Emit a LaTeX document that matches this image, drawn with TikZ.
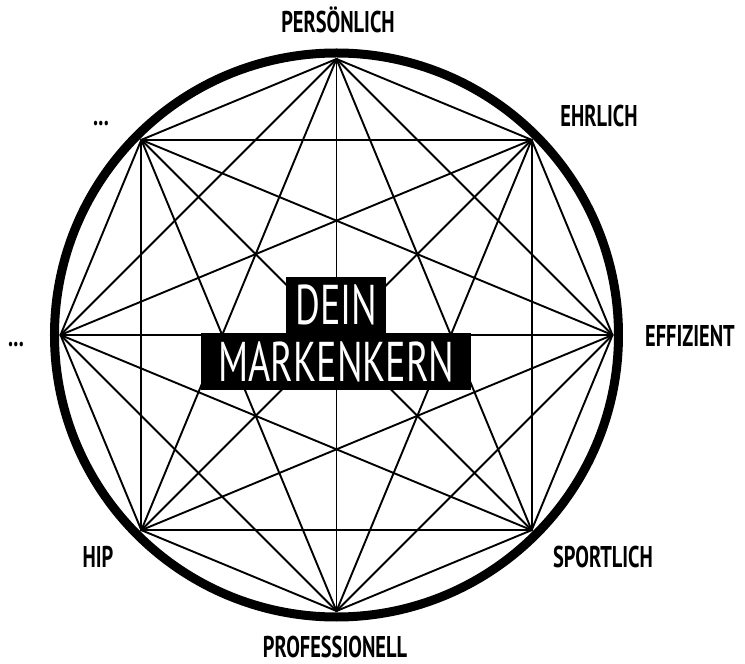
\documentclass[tikz,border=0pt]{standalone}
\usepackage{fontspec}
\setmainfont{PT Sans}[FakeStretch=0.68]
\begin{document}
\begin{tikzpicture}[x=1pt,y=1pt,line join=round,line cap=round,
  chord/.style={line width=1.9pt},
  rim/.style={line width=9pt},
  lbl/.style={font=\fontsize{30}{30}\selectfont\bfseries,anchor=base,inner sep=0pt},
  kern/.style={fill=black,text=white,font=\fontsize{56}{56}\selectfont,inner sep=0pt}]
\useasboundingbox (-336.5,-329) rectangle (408.5,335);
% corners of the star
\foreach \i/\a in {1/90,2/45,3/0,4/-45,5/-90,6/-135,7/180,8/135}
  \coordinate (v\i) at (\a:276pt);
\foreach \i in {1,...,7}{
  \pgfmathtruncatemacro{\j}{\i+1}
  \foreach \k in {\j,...,8}
    \draw[chord] (v\i) -- (v\k);
}
\draw[rim] (0,0) circle[radius=282pt];
% labels
\node[lbl] (persoenlich) at (1.5,302) {PERSÖNLICH};
\node[lbl] (ehrlich) at (262.5,208) {EHRLICH};
\node[lbl] (effizient) at (353.5,-12) {EFFIZIENT};
\node[lbl] (sportlich) at (266.5,-232) {SPORTLICH};
\node[lbl] (professionell) at (-1.5,-322) {PROFESSIONELL};
\node[lbl] (hip) at (-238.5,-232) {HIP};
\node[lbl] (dotsleft) at (-320.5,-12) {...};
\node[lbl] (dotsup) at (-235.5,209) {...};
% center
\node[kern,minimum width=100pt,minimum height=56pt] (dein) at (0,30) {DEIN};
\node[kern,minimum width=270pt,minimum height=57pt] (markenkern) at (0,-26.5) {MARKENKERN};
\end{tikzpicture}
\end{document}
